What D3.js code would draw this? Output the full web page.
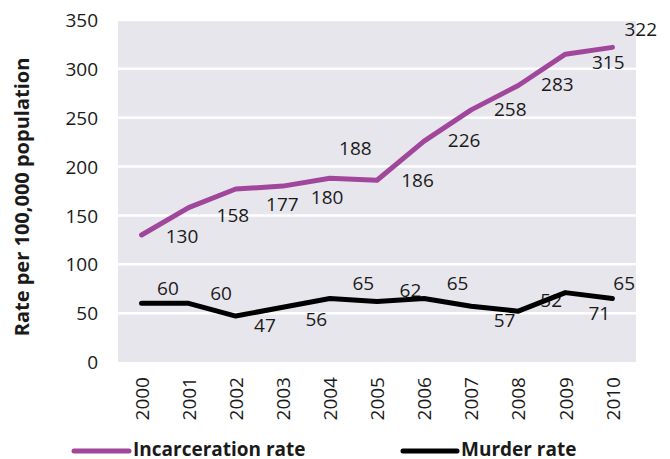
<!DOCTYPE html>
<html><head><meta charset="utf-8">
<script src="https://cdn.jsdelivr.net/npm/d3@7"></script>
<style>body{margin:0;background:#fff}svg{display:block}text{font-family:"Open Sans",sans-serif;fill:#1a1a1a}</style>
</head><body><svg id="c" width="670" height="459"></svg>
<script>
const years = [2000,2001,2002,2003,2004,2005,2006,2007,2008,2009,2010];
const incarceration = [130,158,177,180,188,186,226,258,283,315,322];
const murder = [60,60,47,56,65,62,65,57,52,71,65];
const incLabels = ["130","158","177","180","188","186","226","258","283","315","322"];
const murLabelText = ["60","60","47","56","65","62","65","57","52","71","65"];
// label anchors in data units [category offset from 2000, value]
const incLabelAt = [[0.86,129],[1.94,150],[2.99,161],[3.94,168],[4.54,219],[5.86,186],[6.85,227],[7.83,259],[8.83,284],[9.91,307],[10.6,340]];
const murLabelAt = [[0.56,75],[1.69,70],[2.62,38],[3.71,44],[4.71,80],[5.71,73],[6.71,80],[7.71,43],[8.70,63],[9.72,50],[10.25,81]];
const yTicks = [0,50,100,150,200,250,300,350];
const seriesNames = ["Incarceration rate","Murder rate"];
const colors = ["#a0479b","#000000"];

const svg = d3.select("#c");
const L=118,R=636,T=20,B=362;
const x = d3.scalePoint().domain(years).range([L,R]).padding(0.5);
const step = x.step();
const xc = v => x(2000) + v*step;
const y = d3.scaleLinear().domain([0,350]).range([B,T]);

svg.append("rect").attr("x",L).attr("y",T).attr("width",R-L).attr("height",B-T).attr("fill","#e8e6ed");
svg.append("g").selectAll("line").data(yTicks.filter(d=>d>0)).join("line")
  .attr("x1",L).attr("x2",R).attr("y1",d=>y(d)).attr("y2",d=>y(d))
  .attr("stroke","#fff").attr("stroke-width",2.5);

// y axis
const ya = svg.append("g").attr("transform",`translate(${L-20},0)`)
  .call(d3.axisLeft(y).tickValues(yTicks).tickSize(0).tickPadding(0));
ya.select(".domain").remove();
ya.selectAll("text").attr("font-size",19).attr("font-family","Open Sans").attr("fill","#1a1a1a").attr("dy","0.35em");

// x axis
const xa = svg.append("g").attr("transform",`translate(0,${B})`)
  .call(d3.axisBottom(x).tickSize(0).tickPadding(0));
xa.select(".domain").remove();
xa.selectAll("text").attr("font-size",19).attr("font-family","Open Sans").attr("fill","#1a1a1a")
  .attr("transform","translate(0,15) rotate(-90)").attr("text-anchor","end").attr("x",0).attr("y",0).attr("dy","0.35em");

// y title
svg.append("text").attr("transform","translate(22,197) rotate(-90)").attr("text-anchor","middle")
  .attr("dy","0.35em").attr("font-size",20).attr("font-weight","bold").text("Rate per 100,000 population");

// labels
const lab = svg.append("g").attr("font-size",19);
lab.selectAll("text.i").data(incLabelAt).join("text").attr("class","i")
  .attr("x",d=>xc(d[0])).attr("y",d=>y(d[1])).attr("dy","0.35em").attr("text-anchor","middle")
  .text((d,i)=>incLabels[i]);
lab.selectAll("text.m").data(murLabelAt).join("text").attr("class","m")
  .attr("x",d=>xc(d[0])).attr("y",d=>y(d[1])).attr("dy","0.35em").attr("text-anchor","middle")
  .text((d,i)=>murLabelText[i]);

// lines
const line = d3.line().x((d,i)=>x(years[i])).y(d=>y(d));
[incarceration, murder].forEach((s,k)=>{
  svg.append("path").attr("d",line(s)).attr("fill","none").attr("stroke",colors[k])
    .attr("stroke-width",5).attr("stroke-linecap","round").attr("stroke-linejoin","round");
});

// legend
const lg = svg.append("g");
const lx = [[74,129,133],[403,457,461]];
seriesNames.forEach((n,k)=>{
  lg.append("line").attr("x1",lx[k][0]).attr("x2",lx[k][1]).attr("y1",451).attr("y2",451)
    .attr("stroke",colors[k]).attr("stroke-width",5).attr("stroke-linecap","round");
  lg.append("text").attr("x",lx[k][2]).attr("y",449).attr("dy","0.35em").attr("font-size",19)
    .attr("font-weight","bold").text(n);
});
</script></body></html>
